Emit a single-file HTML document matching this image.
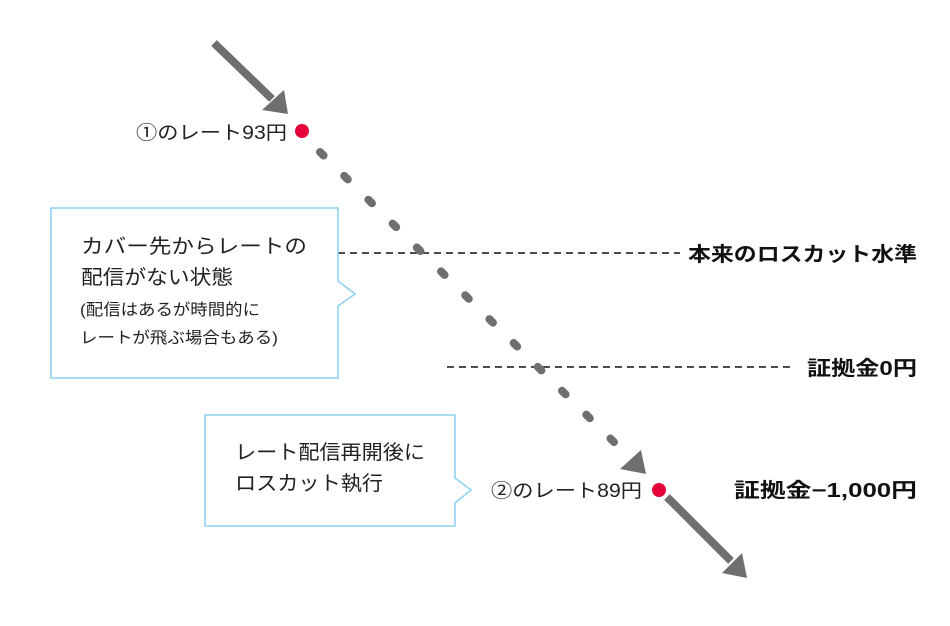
<!DOCTYPE html>
<html><head><meta charset="utf-8"><style>
html,body{margin:0;padding:0;background:#fff;}
svg{display:block;}
text{font-family:"Liberation Sans","Noto Sans CJK JP",sans-serif;fill:#222;}
.b{font-weight:bold;font-size:20px;fill:#111;}
</style></head><body>
<svg width="950" height="626" viewBox="0 0 950 626" xmlns="http://www.w3.org/2000/svg">
<line x1="338" y1="253" x2="680" y2="253" stroke="#111" stroke-width="1.6" stroke-dasharray="7 5"/>
<line x1="447" y1="367" x2="795" y2="367" stroke="#111" stroke-width="1.6" stroke-dasharray="7 5"/>
<line x1="214" y1="43" x2="272" y2="99" stroke="#6f6f6f" stroke-width="8"/>
<polygon points="262,110 284,90 288,114" fill="#6f6f6f"/>
<line x1="320" y1="152" x2="620" y2="448" stroke="#6f6f6f" stroke-width="8" stroke-linecap="round" stroke-dasharray="5 29"/>
<polygon points="620,469 641,450 646,474" fill="#6f6f6f"/>
<line x1="667" y1="497" x2="731" y2="561" stroke="#6f6f6f" stroke-width="8"/>
<polygon points="722,573 742,553 747,578" fill="#6f6f6f"/>
<circle cx="302" cy="131" r="7" fill="#e4003a"/>
<circle cx="659" cy="490" r="7" fill="#e4003a"/>
<path d="M51,208 H338 V281 L355,294 L338,306 V378 H51 Z" fill="#fff" stroke="#8fd3f2" stroke-width="1.6"/>
<text x="81" y="253" font-size="20" textLength="226" lengthAdjust="spacingAndGlyphs">カバー先からレートの</text>
<text x="81" y="284" font-size="20" textLength="152" lengthAdjust="spacingAndGlyphs">配信がない状態</text>
<text x="80" y="315" font-size="16" textLength="180" lengthAdjust="spacingAndGlyphs">(配信はあるが時間的に</text>
<text x="80" y="343" font-size="16" textLength="198" lengthAdjust="spacingAndGlyphs">レートが飛ぶ場合もある)</text>
<path d="M205,415 H455 V478 L471,490 L455,503 V526 H205 Z" fill="#fff" stroke="#8fd3f2" stroke-width="1.6"/>
<text x="235" y="459" font-size="20" textLength="190" lengthAdjust="spacingAndGlyphs">レート配信再開後に</text>
<text x="235" y="490" font-size="20" textLength="148" lengthAdjust="spacingAndGlyphs">ロスカット執行</text>
<text x="136" y="139" font-size="19" textLength="151" lengthAdjust="spacingAndGlyphs">①のレート93円</text>
<text x="491" y="497" font-size="19" textLength="151" lengthAdjust="spacingAndGlyphs">②のレート89円</text>
<text class="b" x="688" y="261" textLength="229" lengthAdjust="spacingAndGlyphs">本来のロスカット水準</text>
<text class="b" x="807" y="375" textLength="110" lengthAdjust="spacingAndGlyphs">証拠金0円</text>
<text class="b" x="734" y="497" textLength="183" lengthAdjust="spacingAndGlyphs">証拠金−1,000円</text>
</svg>
</body></html>
